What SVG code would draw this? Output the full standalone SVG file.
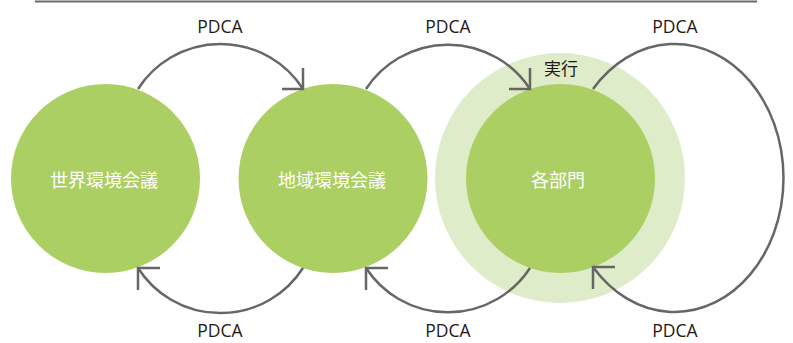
<svg xmlns="http://www.w3.org/2000/svg" xmlns:xlink="http://www.w3.org/1999/xlink" width="793" height="343" viewBox="0 0 793 343">
  <style>
    .node { fill: #abcf62; }
    .halo { fill: #deecc9; }
    .conn { fill: none; stroke: #666666; stroke-width: 2.5; }
    .nlabel { font-family: "Noto Sans CJK JP", "Noto Sans", sans-serif; font-size: 18px; fill: #ffffff; text-anchor: middle; }
    .elabel { font-family: "Open Sans", "Noto Sans", sans-serif; font-size: 17.5px; fill: #231815; text-anchor: middle; }
    .jlabel { font-family: "Noto Sans CJK JP", sans-serif; font-size: 17px; fill: #231815; text-anchor: middle; }
  </style>
  <defs>
    <path id="headDown" d="M0,-21 V0 H-21"/>
    <path id="headUp" d="M0,22 V0 H22"/>
  </defs>
  <rect width="793" height="343" fill="#ffffff"/>
  <line x1="35" y1="1.5" x2="757" y2="1.5" stroke="#6b6b6b" stroke-width="2"/>

  <g id="node-world">
    <circle class="node" cx="105.5" cy="178.5" r="94.5"/>
    <text class="nlabel" x="104" y="187">世界環境会議</text>
  </g>
  <g id="node-region">
    <circle class="node" cx="333" cy="178.5" r="94.5"/>
    <text class="nlabel" x="332" y="187">地域環境会議</text>
  </g>
  <g id="node-dept">
    <circle class="halo" cx="560" cy="178" r="125"/>
    <circle class="node" cx="560.5" cy="178.5" r="94.5"/>
    <text class="nlabel" x="558" y="187">各部門</text>
    <text class="jlabel" x="561" y="75">実行</text>
  </g>

  <g id="connectors">
    <path class="conn" d="M138,89 A98,98 0 0 1 303,89"/>
    <use class="conn" href="#headDown" xlink:href="#headDown" transform="translate(303,89)"/>
    <path class="conn" d="M366,89 A98,98 0 0 1 530,89"/>
    <use class="conn" href="#headDown" xlink:href="#headDown" transform="translate(530,89)"/>
    <path class="conn" d="M593,89 A109,134 0 1 1 593,267"/>
    <use class="conn" href="#headUp" xlink:href="#headUp" transform="translate(593,267)"/>
    <path class="conn" d="M303,268 A98,98 0 0 1 138,268"/>
    <use class="conn" href="#headUp" xlink:href="#headUp" transform="translate(138,268)"/>
    <path class="conn" d="M530,268 A98,98 0 0 1 366,268"/>
    <use class="conn" href="#headUp" xlink:href="#headUp" transform="translate(366,268)"/>
    <text class="elabel" x="220" y="33">PDCA</text>
    <text class="elabel" x="448" y="33">PDCA</text>
    <text class="elabel" x="675" y="33">PDCA</text>
    <text class="elabel" x="220" y="337">PDCA</text>
    <text class="elabel" x="448" y="337">PDCA</text>
    <text class="elabel" x="675" y="337">PDCA</text>
  </g>
</svg>
